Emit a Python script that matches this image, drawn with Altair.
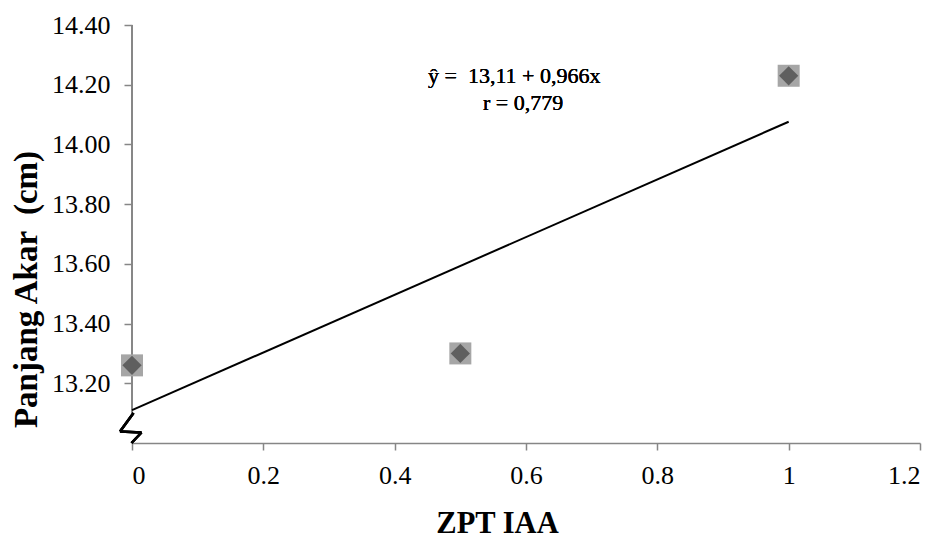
import altair as alt
import pandas as pd

# data
x_vals = [0, 0.5, 1]
y_vals = [13.26, 13.30, 14.23]
fit_x = [0, 1]
fit_y = [13.11, 14.076]
y_ticks = [13.20, 13.40, 13.60, 13.80, 14.00, 14.20, 14.40]
x_ticks = [0, 0.2, 0.4, 0.6, 0.8, 1.0, 1.2]
eq_line1 = "ŷ = \u00a013,11 + 0,966x"
eq_line2 = "r = 0,779"

pts = pd.DataFrame({"x": x_vals, "y": y_vals})
fit = pd.DataFrame({"x": fit_x, "y": fit_y})

FONT = "Liberation Serif"
AX = "#868686"

xscale = alt.Scale(domain=[0, 1.2], nice=False, zero=False)
yscale = alt.Scale(domain=[13.0, 14.4], nice=False, zero=False)

xenc = alt.X("x:Q", scale=xscale, axis=alt.Axis(
    values=x_ticks, format="~g", grid=False, domainColor=AX, domainWidth=1.5,
    tickColor=AX, tickSize=7, tickWidth=1.5, labelFont=FONT, labelFontSize=26,
    labelColor="black", labelPadding=12, labelFontWeight="normal",
    title="ZPT IAA", titleFont=FONT, titleFontSize=30.5, titleFontWeight="bold",
    titleColor="black", titleX=365, titleY=89, titleBaseline="alphabetic",
    titleAnchor="start", titleAlign="center"))
yenc = alt.Y("y:Q", scale=yscale, axis=alt.Axis(
    values=y_ticks, format=".2f", grid=False, domain=False,
    tickColor=AX, tickSize=8, tickWidth=1.5, labelFont=FONT, labelFontSize=26,
    labelColor="black", labelPadding=14, labelFontWeight="normal",
    title="Panjang Akar \u00a0(cm)", titleFont=FONT, titleFontSize=33,
    titleFontWeight="bold", titleColor="black", titleX=-106, titleY=264,
    titleAngle=270, titleAlign="center", titleBaseline="middle"))

squares = alt.Chart(pts).mark_point(shape="square", filled=True, size=484,
                                    color="#a6a6a6", opacity=1).encode(x=xenc, y=yenc)
diamonds = alt.Chart(pts).mark_point(shape="diamond", filled=True, size=370,
                                     color="#5f5f5f", opacity=1).encode(x="x:Q", y="y:Q")
line = alt.Chart(fit).mark_line(color="black", strokeWidth=2).encode(x="x:Q", y="y:Q")

yaxis_line = alt.Chart(pts).mark_rule(color=AX, strokeWidth=1.5).encode(
    x=alt.value(0), y=alt.value(0), y2=alt.value(388))

brk1 = alt.Chart(pts).mark_rule(color="black", strokeWidth=2.5).encode(
    x=alt.value(1.5), y=alt.value(388), x2=alt.value(-12), y2=alt.value(406.5))
brk2 = alt.Chart(pts).mark_rule(color="black", strokeWidth=2.5).encode(
    x=alt.value(-12), y=alt.value(406.5), x2=alt.value(9.5), y2=alt.value(407.5))
brk3 = alt.Chart(pts).mark_rule(color="black", strokeWidth=2.5).encode(
    x=alt.value(9.5), y=alt.value(407.5), x2=alt.value(-0.5), y2=alt.value(418))

t1 = alt.Chart(pts).mark_text(text=eq_line1, font=FONT, fontSize=22, align="left",
                              fontWeight="normal", baseline="alphabetic", color="black").encode(
    x=alt.value(296), y=alt.value(58))
t2 = alt.Chart(pts).mark_text(text=eq_line2, font=FONT, fontSize=22, align="left",
                              fontWeight="normal", baseline="alphabetic", color="black").encode(
    x=alt.value(351), y=alt.value(85))

chart = alt.layer(yaxis_line, line, squares, diamonds, brk1, brk2, brk3, t1, t2).properties(
    width=788, height=418,
    autosize=alt.AutoSizeParams(type="none"),
    padding={"left": 132, "top": 25, "right": 19, "bottom": 97},
    background="white",
).configure_view(stroke=None)

chart.save("out.html", embed_options={"renderer": "svg", "actions": False})
